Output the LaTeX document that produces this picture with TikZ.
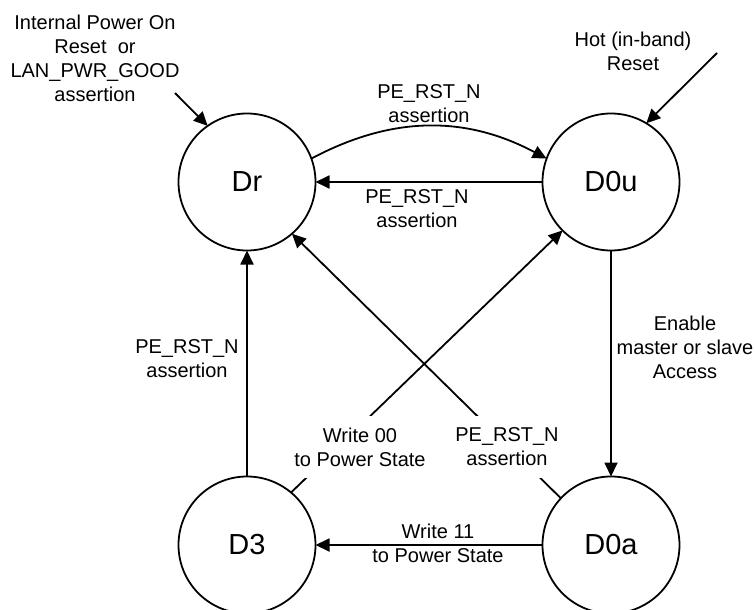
\documentclass[tikz,border=0pt]{standalone}
\usepackage{fontspec}
\setmainfont{Liberation Sans}
\usetikzlibrary{arrows.meta,positioning}
\tikzset{
    >={Triangle[length=7pt,width=6.5pt]},
    font=\fontsize{10}{12}\selectfont,
    state/.style={circle,draw,line width=0.9pt,minimum size=68.5pt,inner sep=0pt,outer sep=0pt,font=\fontsize{14.5}{17}\selectfont},
    note/.style={align=center,inner sep=1pt},
    cut note/.style={note,fill=white,inner sep=6pt},
    trans/.style={->,line width=0.9pt}
}

\begin{document}
\begin{tikzpicture}[x=0.5pt,y=-0.5pt]
    \useasboundingbox (0,0) rectangle (755,610);
    % power states
    \node[state] (Dr) at (247,182) {Dr};
    \node[state] (D0u) [right = 113.5pt of Dr] {D0u};
    \node[state] (D3) [below = 113pt of Dr] {D3};
    \node[state] (D0a) [below = 113pt of D0u] {D0a};
    % entry conditions
    \node[note] (por) at (95,58) {Internal Power On\\Reset~ or\\LAN\_PWR\_GOOD\\assertion};
    \node[note] (hot) at (633,51) {Hot (in-band)\\Reset};
    \coordinate (porsrc) at (175,93);
    \coordinate (hotsrc) at (717,53);
    \path
        (porsrc) edge [trans] (Dr.125)
        (hotsrc) edge [trans] (D0u.59)
        (Dr.20) edge [trans, bend left=28] (D0u.160)
        (D0u) edge [trans] (Dr)
        (D3) edge [trans] (Dr)
        (D0u) edge [trans] (D0a)
        (D0a) edge [trans] (D3)
        (D3.50) edge [trans] (D0u.225)
        (D0a.137) edge [trans] (Dr.311)
        ;
    % transition labels
    \node[note] (rsttop) at (429,104) {PE\_RST\_N\\assertion};
    \node[note] (rstmid) at (417,209) {PE\_RST\_N\\assertion};
    \node[note] (rstleft) at (187,359) {PE\_RST\_N\\assertion};
    \node[note] (enable) at (685,347) {Enable\\master or slave\\Access};
    \node[cut note] (wr00) at (360,447) {Write 00\\to Power State};
    \node[cut note] (rstdiag) at (507,447) {PE\_RST\_N\\assertion};
    \node[note] (wr11) at (438,543) {Write 11\\to Power State};
\end{tikzpicture}
\end{document}
